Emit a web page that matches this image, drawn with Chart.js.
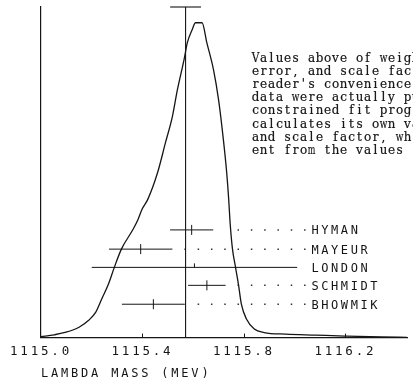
<!DOCTYPE html>
<html>
<head>
<meta charset="utf-8">
<script src="https://cdn.jsdelivr.net/npm/chart.js@4.4.0/dist/chart.umd.min.js"></script>
<style>
html, body { margin: 0; padding: 0; background: #fff; }
</style>
</head>
<body>
<canvas id="graphics" width="413" height="381"></canvas>
<script>
// ideogram curve (mass in MeV, relative height)
const curveMass = [1115.000, 1115.052, 1115.099, 1115.150, 1115.188, 1115.216, 1115.239, 1115.266,
  1115.289, 1115.317, 1115.363, 1115.383, 1115.398, 1115.421, 1115.460, 1115.491, 1115.518,
  1115.538, 1115.564, 1115.577, 1115.596, 1115.609, 1115.635, 1115.654, 1115.680, 1115.700,
  1115.719, 1115.732, 1115.740, 1115.746, 1115.755, 1115.767, 1115.779, 1115.790, 1115.810,
  1115.841, 1115.880, 1115.965, 1116.082, 1116.198, 1116.342, 1116.443];
const curveHeight = [0.003, 0.009, 0.017, 0.033, 0.055, 0.081, 0.122, 0.170,
  0.223, 0.281, 0.344, 0.376, 0.407, 0.439, 0.525, 0.620, 0.702,
  0.788, 0.883, 0.937, 0.978, 1.000, 1.000, 0.936, 0.851, 0.756,
  0.629, 0.525, 0.439, 0.360, 0.281, 0.223, 0.166, 0.106, 0.059,
  0.027, 0.016, 0.011, 0.008, 0.005, 0.002, 0.001];

// measurements
const experiments = ['HYMAN', 'MAYEUR', 'LONDON', 'SCHMIDT', 'BHOWMIK'];
const expMass = [1115.594, 1115.393, 1115.605, 1115.654, 1115.443];
const expError = [0.085, 0.125, 0.405, 0.074, 0.124];
const expRow = [0.342, 0.281, 0.223, 0.166, 0.106];
const leaderFrom = [1115.744, 1115.526, null, 1115.740, 1115.577];
const leaderTo = 1116.043;
const labelMass = 1116.066;

// weighted average
const avgMass = 1115.57;
const avgCap = 0.061;

const tickValues = [1115.0, 1115.4, 1115.8, 1116.2];
const xMin = 1115.0, xMax = 1116.443;
const yMax = 1.05;

const noteLines = [
  "Values above of weighted",
  "error, and scale factor",
  "reader's convenience",
  "data were actually put",
  "constrained fit program",
  "calculates its own values",
  "and scale factor, which",
  "ent from the values"
];

const ink = '#151515';

let datasets = [];
datasets.push({
  data: curveMass.map((m, i) => ({x: m, y: curveHeight[i]})),
  borderColor: ink, borderWidth: 1.3, pointRadius: 0,
  cubicInterpolationMode: 'monotone', clip: false
});
datasets.push({
  data: [{x: avgMass, y: 0}, {x: avgMass, y: yMax}],
  borderColor: ink, borderWidth: 1.1, pointRadius: 0, clip: false
});
datasets.push({
  data: [{x: avgMass - avgCap, y: yMax}, {x: avgMass + avgCap, y: yMax}],
  borderColor: ink, borderWidth: 1.1, pointRadius: 0, clip: false
});
experiments.forEach((name, i) => {
  datasets.push({
    data: [{x: expMass[i] - expError[i], y: expRow[i]}, {x: expMass[i] + expError[i], y: expRow[i]}],
    borderColor: ink, borderWidth: 1, pointRadius: 0, clip: false
  });
  datasets.push({
    type: 'scatter',
    data: [{x: expMass[i], y: expRow[i]}],
    pointStyle: name === 'LONDON' ? 'dash' : 'line',
    rotation: name === 'LONDON' ? 270 : 90,
    radius: name === 'LONDON' ? 4 : 5,
    borderColor: ink, borderWidth: 1, clip: false
  });
  if (leaderFrom[i] !== null) {
    datasets.push({
      data: [{x: leaderTo, y: expRow[i]}, {x: leaderFrom[i], y: expRow[i]}],
      borderColor: '#333', borderWidth: 1.5, borderDash: [1.5, 11.8],
      pointRadius: 0, clip: false
    });
  }
});

const plotterText = {
  id: 'plotterText',
  beforeDraw(chart) {
    chart.ctx.letterSpacing = '2.8px';
  },
  afterDatasetsDraw(chart) {
    const {ctx, chartArea, scales: {x}} = chart;
    ctx.save();
    ctx.strokeStyle = ink;
    ctx.lineWidth = 1;
    tickValues.slice(1).forEach(v => {
      const px = Math.round(x.getPixelForValue(v)) + 0.5;
      ctx.beginPath();
      ctx.moveTo(px, chartArea.bottom);
      ctx.lineTo(px, chartArea.bottom - 4);
      ctx.stroke();
    });
    ctx.restore();
  },
  afterDraw(chart) {
    const {ctx, scales: {x, y}} = chart;
    ctx.save();
    ctx.fillStyle = ink;
    ctx.letterSpacing = '2.6px';
    ctx.font = '12px "DejaVu Sans Mono"';
    ctx.textBaseline = 'alphabetic';
    experiments.forEach((name, i) => {
      ctx.fillText(name, x.getPixelForValue(labelMass), y.getPixelForValue(expRow[i]) + 4.5);
    });

    // typewritten note, fixed pitch
    ctx.letterSpacing = '0px';
    ctx.font = '12px "DejaVu Serif"';
    ctx.strokeStyle = ink;
    ctx.lineWidth = 0.2;
    const pitch = 8.0, x0 = 251.5, y0 = 62, lead = 13.1;
    noteLines.forEach((line, r) => {
      [...line].forEach((ch, k) => {
        const w = ctx.measureText(ch).width;
        const s = w > pitch - 0.4 ? (pitch - 0.4) / w : 1;
        ctx.save();
        ctx.translate(x0 + k * pitch + pitch / 2, y0 + r * lead);
        ctx.scale(s, 1);
        ctx.fillText(ch, -w / 2, 0);
        ctx.strokeText(ch, -w / 2, 0);
        ctx.restore();
      });
    });
    ctx.restore();
  }
};

const ctx = document.getElementById('graphics').getContext('2d');
const myChart = new Chart(ctx, {
  type: 'line',
  data: {datasets: datasets},
  options: {
    responsive: false,
    animation: false,
    events: [],
    layout: {padding: {left: 41, top: 7, right: 0, bottom: 0}},
    plugins: {legend: {display: false}, tooltip: {enabled: false}},
    scales: {
      x: {
        type: 'linear', min: xMin, max: xMax,
        afterBuildTicks: s => { s.ticks = tickValues.map(v => ({value: v})); },
        grid: {display: false, drawTicks: false},
        border: {display: true, color: ink, width: 1.2},
        ticks: {
          color: ink, padding: 7,
          font: {family: '"DejaVu Sans Mono"', size: 12.5},
          callback: v => v.toFixed(1),
          maxRotation: 0, autoSkip: false
        },
        title: {
          display: true, text: 'LAMBDA MASS (MEV)', align: 'start', color: ink,
          font: {family: '"DejaVu Sans Mono"', size: 12},
          padding: {top: 0, bottom: 0}
        }
      },
      y: {
        min: 0, max: yMax,
        grid: {display: false, drawTicks: false},
        border: {display: true, color: ink, width: 1.2},
        ticks: {display: false}
      }
    }
  },
  plugins: [plotterText]
});
</script>
</body>
</html>
